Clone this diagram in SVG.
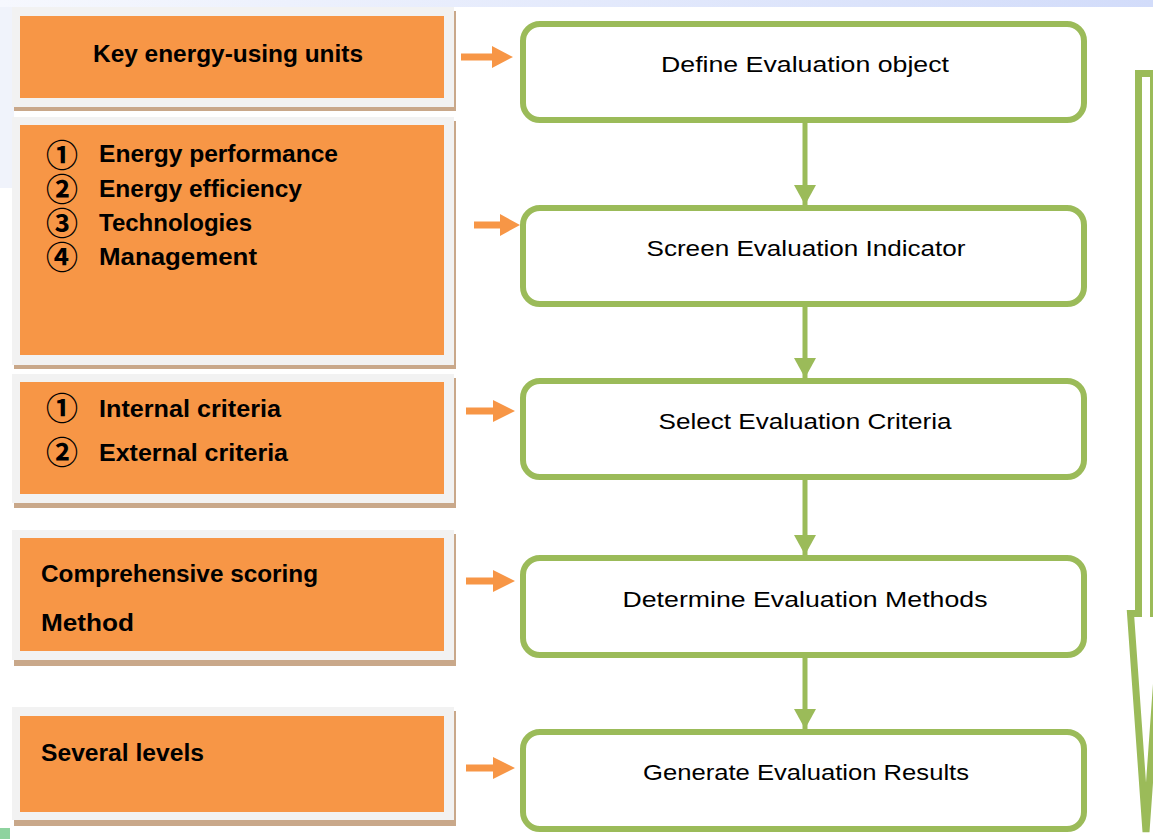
<svg xmlns="http://www.w3.org/2000/svg" width="1153" height="839" viewBox="0 0 1153 839">
<defs>
<linearGradient id="band" x1="0" y1="0" x2="1" y2="0">
<stop offset="0" stop-color="#f6f8fe"/>
<stop offset="1" stop-color="#d2dcfa"/>
</linearGradient>
<marker id="gh" markerWidth="20" markerHeight="22" refX="20" refY="11" orient="auto" markerUnits="userSpaceOnUse" viewBox="0 0 20 22">
<path d="M0,0 L20,11 L0,22 Z" fill="#9bbb59"/>
</marker>
<style>
.shadow{fill:#c9a88a}
.frame{fill:#f2f2f2}
.orange{fill:#f79646}
.ot{font-family:"Liberation Sans",Arial,sans-serif;font-weight:bold;font-size:23px;fill:#000}
.num{font-family:"Noto Sans CJK SC","DejaVu Sans",sans-serif;font-size:32px;font-weight:bold;fill:#000}
.gbox{fill:#fff;stroke:#9bbb59;stroke-width:6}
.gt{font-family:"Liberation Sans",Arial,sans-serif;font-size:22px;fill:#000;text-anchor:middle}
.gline{stroke:#9bbb59;stroke-width:5;fill:none}
.oarrow{fill:#f79646}
</style>
</defs>
<rect x="0" y="0" width="1153" height="839" fill="#fff"/>
<rect x="0" y="0" width="14" height="188" fill="#f0f3fb"/>
<rect x="0" y="0" width="1153" height="7" fill="url(#band)"/>
<rect x="0" y="828" width="10" height="11" fill="#8ed39f"/>

<g id="in1">
<rect class="shadow" x="14" y="11" width="442" height="100"/>
<rect class="frame" x="12" y="7" width="442" height="100"/>
<rect class="orange" x="20" y="16" width="424" height="82"/>
<text class="ot" x="93" y="62" textLength="270" lengthAdjust="spacingAndGlyphs">Key energy-using units</text>
</g>
<g id="in2">
<rect class="shadow" x="14" y="121" width="442" height="248"/>
<rect class="frame" x="12" y="117" width="442" height="248"/>
<rect class="orange" x="20" y="125" width="424" height="230"/>
<text class="num" x="46" y="167">①</text>
<text class="num" x="46" y="201">②</text>
<text class="num" x="46" y="235">③</text>
<text class="num" x="46" y="269">④</text>
<text class="ot" x="99" y="162" textLength="239" lengthAdjust="spacingAndGlyphs">Energy performance</text>
<text class="ot" x="99" y="197" textLength="203" lengthAdjust="spacingAndGlyphs">Energy efficiency</text>
<text class="ot" x="99" y="231" textLength="153" lengthAdjust="spacingAndGlyphs">Technologies</text>
<text class="ot" x="99" y="265" textLength="158" lengthAdjust="spacingAndGlyphs">Management</text>
</g>
<g id="in3">
<rect class="shadow" x="14" y="378" width="442" height="130"/>
<rect class="frame" x="12" y="374" width="442" height="129"/>
<rect class="orange" x="20" y="382" width="424" height="112"/>
<text class="num" x="46" y="420">①</text>
<text class="num" x="46" y="464">②</text>
<text class="ot" x="99" y="417" textLength="182" lengthAdjust="spacingAndGlyphs">Internal criteria</text>
<text class="ot" x="99" y="461" textLength="189" lengthAdjust="spacingAndGlyphs">External criteria</text>
</g>
<g id="in4">
<rect class="shadow" x="14" y="534" width="442" height="132"/>
<rect class="frame" x="12" y="530" width="442" height="130"/>
<rect class="orange" x="20" y="538" width="424" height="113"/>
<text class="ot" x="41" y="582" textLength="277" lengthAdjust="spacingAndGlyphs">Comprehensive scoring</text>
<text class="ot" x="41" y="631" textLength="93" lengthAdjust="spacingAndGlyphs">Method</text>
</g>
<g id="in5">
<rect class="shadow" x="14" y="711" width="442" height="115"/>
<rect class="frame" x="12" y="707" width="442" height="113"/>
<rect class="orange" x="20" y="716" width="424" height="96"/>
<text class="ot" x="41" y="761" textLength="163" lengthAdjust="spacingAndGlyphs">Several levels</text>
</g>

<g id="s1">
<rect class="gbox" x="523" y="24" width="561" height="96" rx="17"/>
<text class="gt" x="805" y="72" textLength="288" lengthAdjust="spacingAndGlyphs">Define Evaluation object</text>
</g>
<g id="s2">
<rect class="gbox" x="523" y="208" width="561" height="96" rx="17"/>
<text class="gt" x="806" y="256" textLength="319" lengthAdjust="spacingAndGlyphs">Screen Evaluation Indicator</text>
</g>
<g id="s3">
<rect class="gbox" x="523" y="381" width="561" height="96" rx="17"/>
<text class="gt" x="805" y="429" textLength="293" lengthAdjust="spacingAndGlyphs">Select Evaluation Criteria</text>
</g>
<g id="s4">
<rect class="gbox" x="523" y="558" width="561" height="97" rx="17"/>
<text class="gt" x="805" y="607" textLength="365" lengthAdjust="spacingAndGlyphs">Determine Evaluation Methods</text>
</g>
<g id="s5">
<rect class="gbox" x="523" y="732" width="561" height="97" rx="17"/>
<text class="gt" x="806" y="780" textLength="326" lengthAdjust="spacingAndGlyphs">Generate Evaluation Results</text>
</g>

<g id="connectors">
<line class="gline" x1="805" y1="123" x2="805" y2="205" marker-end="url(#gh)"/>
<line class="gline" x1="805" y1="307" x2="805" y2="378" marker-end="url(#gh)"/>
<line class="gline" x1="805" y1="480" x2="805" y2="555" marker-end="url(#gh)"/>
<line class="gline" x1="805" y1="658" x2="805" y2="729" marker-end="url(#gh)"/>
<path class="oarrow" d="M461,53.5 H492 V46 L513,57 L492,68 V60.5 H461 Z"/>
<path class="oarrow" d="M474,221.5 H500 V214 L520,225 L500,236 V228.5 H474 Z"/>
<path class="oarrow" d="M466,407.5 H493 V400 L515,411 L493,422 V414.5 H466 Z"/>
<path class="oarrow" d="M466,577.5 H493 V570 L515,581 L493,592 V584.5 H466 Z"/>
<path class="oarrow" d="M466,764.5 H493 V757 L515,768 L493,779 V771.5 H466 Z"/>
<path d="M1138.5,73.5 H1153.5 V613.5 H1161.5 L1146,832 L1130.5,613.5 H1138.5 Z" fill="#fff" stroke="#9bbb59" stroke-width="7"/>
</g>
</svg>
